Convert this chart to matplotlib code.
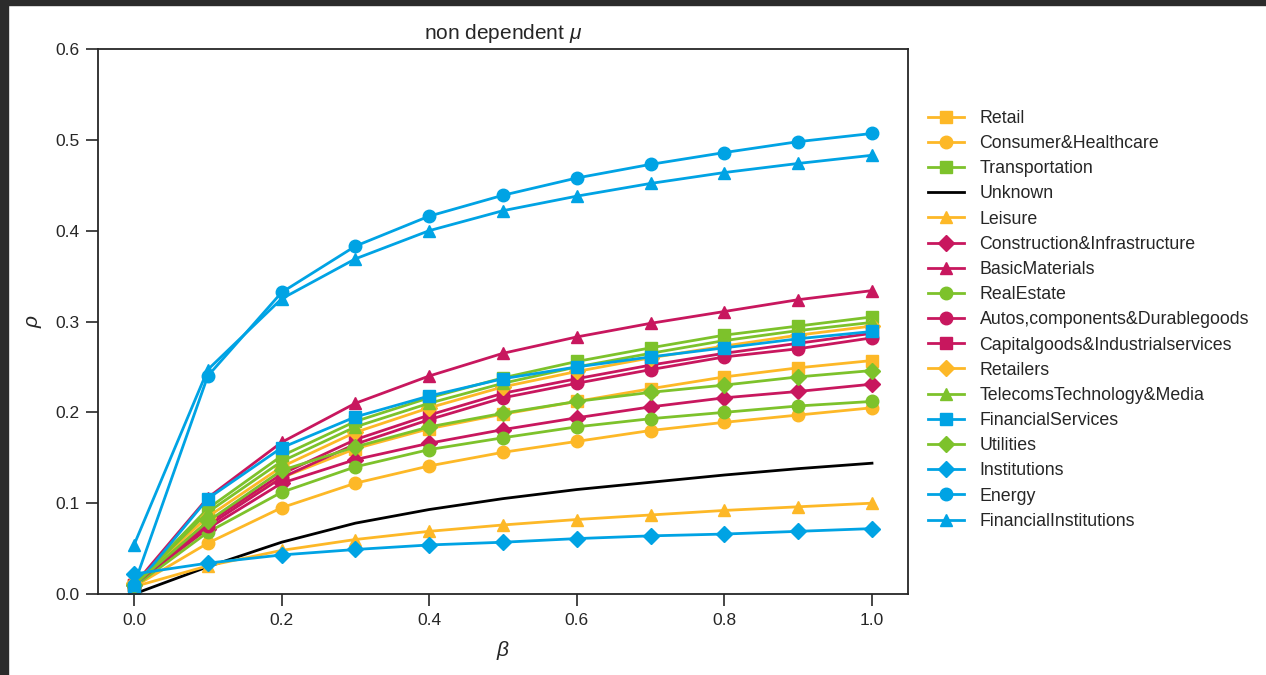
import matplotlib
matplotlib.use("Agg")
import matplotlib.pyplot as plt
from matplotlib.patches import Rectangle

plt.rcParams['font.family'] = ['Liberation Sans', 'DejaVu Sans']
plt.rcParams['mathtext.fontset'] = 'custom'
plt.rcParams['mathtext.it'] = 'Liberation Sans:italic'
plt.rcParams['mathtext.rm'] = 'Liberation Sans'

beta = [0.0, 0.1, 0.2, 0.3, 0.4, 0.5, 0.6, 0.7, 0.8, 0.9, 1.0]

retail = [0.010, 0.080, 0.128, 0.160, 0.182, 0.198, 0.212, 0.226, 0.239, 0.249, 0.257]
consumer_healthcare = [0.008, 0.056, 0.095, 0.122, 0.141, 0.156, 0.168, 0.180, 0.189, 0.197, 0.205]
transportation = [0.010, 0.094, 0.152, 0.190, 0.216, 0.238, 0.256, 0.271, 0.285, 0.295, 0.305]
unknown = [0.000, 0.030, 0.057, 0.078, 0.093, 0.105, 0.115, 0.123, 0.131, 0.138, 0.144]
leisure = [0.008, 0.031, 0.048, 0.060, 0.069, 0.076, 0.082, 0.087, 0.092, 0.096, 0.100]
construction = [0.010, 0.072, 0.122, 0.148, 0.166, 0.181, 0.194, 0.206, 0.216, 0.223, 0.231]
basic_materials = [0.010, 0.106, 0.167, 0.210, 0.240, 0.265, 0.283, 0.298, 0.311, 0.324, 0.334]
real_estate = [0.008, 0.068, 0.112, 0.140, 0.159, 0.172, 0.184, 0.193, 0.200, 0.207, 0.212]
autos = [0.010, 0.075, 0.128, 0.165, 0.192, 0.216, 0.232, 0.247, 0.261, 0.270, 0.282]
capital_goods = [0.010, 0.078, 0.132, 0.170, 0.197, 0.221, 0.237, 0.252, 0.265, 0.276, 0.287]
retailers = [0.012, 0.085, 0.140, 0.178, 0.205, 0.228, 0.245, 0.260, 0.273, 0.285, 0.295]
telecoms = [0.010, 0.090, 0.146, 0.184, 0.210, 0.232, 0.250, 0.265, 0.279, 0.290, 0.299]
financial_services = [0.007, 0.105, 0.161, 0.195, 0.218, 0.237, 0.250, 0.261, 0.271, 0.281, 0.289]
utilities = [0.010, 0.080, 0.136, 0.162, 0.184, 0.199, 0.212, 0.222, 0.230, 0.239, 0.246]
institutions = [0.022, 0.034, 0.043, 0.049, 0.054, 0.057, 0.061, 0.064, 0.066, 0.069, 0.072]
energy = [0.010, 0.240, 0.332, 0.383, 0.416, 0.439, 0.458, 0.473, 0.486, 0.498, 0.507]
financial_institutions = [0.054, 0.247, 0.325, 0.369, 0.400, 0.422, 0.438, 0.452, 0.464, 0.474, 0.483]

labels = ["Retail", "Consumer&Healthcare", "Transportation", "Unknown", "Leisure",
          "Construction&Infrastructure", "BasicMaterials", "RealEstate",
          "Autos,components&Durablegoods", "Capitalgoods&Industrialservices",
          "Retailers", "TelecomsTechnology&Media", "FinancialServices", "Utilities",
          "Institutions", "Energy", "FinancialInstitutions"]
series = [retail, consumer_healthcare, transportation, unknown, leisure, construction,
          basic_materials, real_estate, autos, capital_goods, retailers, telecoms,
          financial_services, utilities, institutions, energy, financial_institutions]

ORANGE = '#FDB827'
GREEN = '#7DC22B'
MAGENTA = '#C8175E'
BLUE = '#00A3E4'
BLACK = '#000000'
styles = [
    (ORANGE, 's'), (ORANGE, 'o'), (GREEN, 's'), (BLACK, None), (ORANGE, '^'),
    (MAGENTA, 'D'), (MAGENTA, '^'), (GREEN, 'o'), (MAGENTA, 'o'), (MAGENTA, 's'),
    (ORANGE, 'D'), (GREEN, '^'), (BLUE, 's'), (GREEN, 'D'), (BLUE, 'D'),
    (BLUE, 'o'), (BLUE, '^'),
]

fig = plt.figure(figsize=(12.66, 6.75), dpi=100)
ax = fig.add_axes([98/1266, 1 - 594/675, (908-98)/1266, (594-49)/675])

for lab, ys, (c, m) in zip(labels, series, styles):
    if m is None:
        ax.plot(beta, ys, color=c, lw=2.0, label=lab)
    else:
        ms = 8.5 if m == 'D' else 9
        ax.plot(beta, ys, color=c, lw=2.0, marker=m, markersize=ms, label=lab)

ax.set_xlim(-0.0488, 1.0488)
ax.set_ylim(0, 0.6)
ax.set_xticks([0.0, 0.2, 0.4, 0.6, 0.8, 1.0])
ax.set_yticks([0.0, 0.1, 0.2, 0.3, 0.4, 0.5, 0.6])
ax.tick_params(direction='out', length=8.5, width=1.2, colors='#262626', labelsize=12.5, pad=5)
for sp in ax.spines.values():
    sp.set_linewidth(1.3)
    sp.set_color('#262626')

ax.set_title(r'non dependent $\mu$', fontsize=15, color='#262626', pad=7)
ax.set_xlabel(r'$\beta$', fontsize=15, color='#262626', labelpad=8)
ax.set_ylabel(r'$\rho$', fontsize=15, color='#262626', labelpad=8)

leg = ax.legend(loc='center left', bbox_to_anchor=(1.005, 0.503), frameon=False,
                fontsize=12.8, labelspacing=0.46, handlelength=2.0, handletextpad=0.9)
for t in leg.get_texts():
    t.set_color('#262626')

# dark screenshot frame on top and left
fig.patches.append(Rectangle((0, 1 - 5/675), 1, 5/675, transform=fig.transFigure,
                             color='#2b2b2b', zorder=10))
fig.patches.append(Rectangle((0, 0), 8/1266, 1, transform=fig.transFigure,
                             color='#2b2b2b', zorder=10))

fig.savefig('out.png', dpi=100)
